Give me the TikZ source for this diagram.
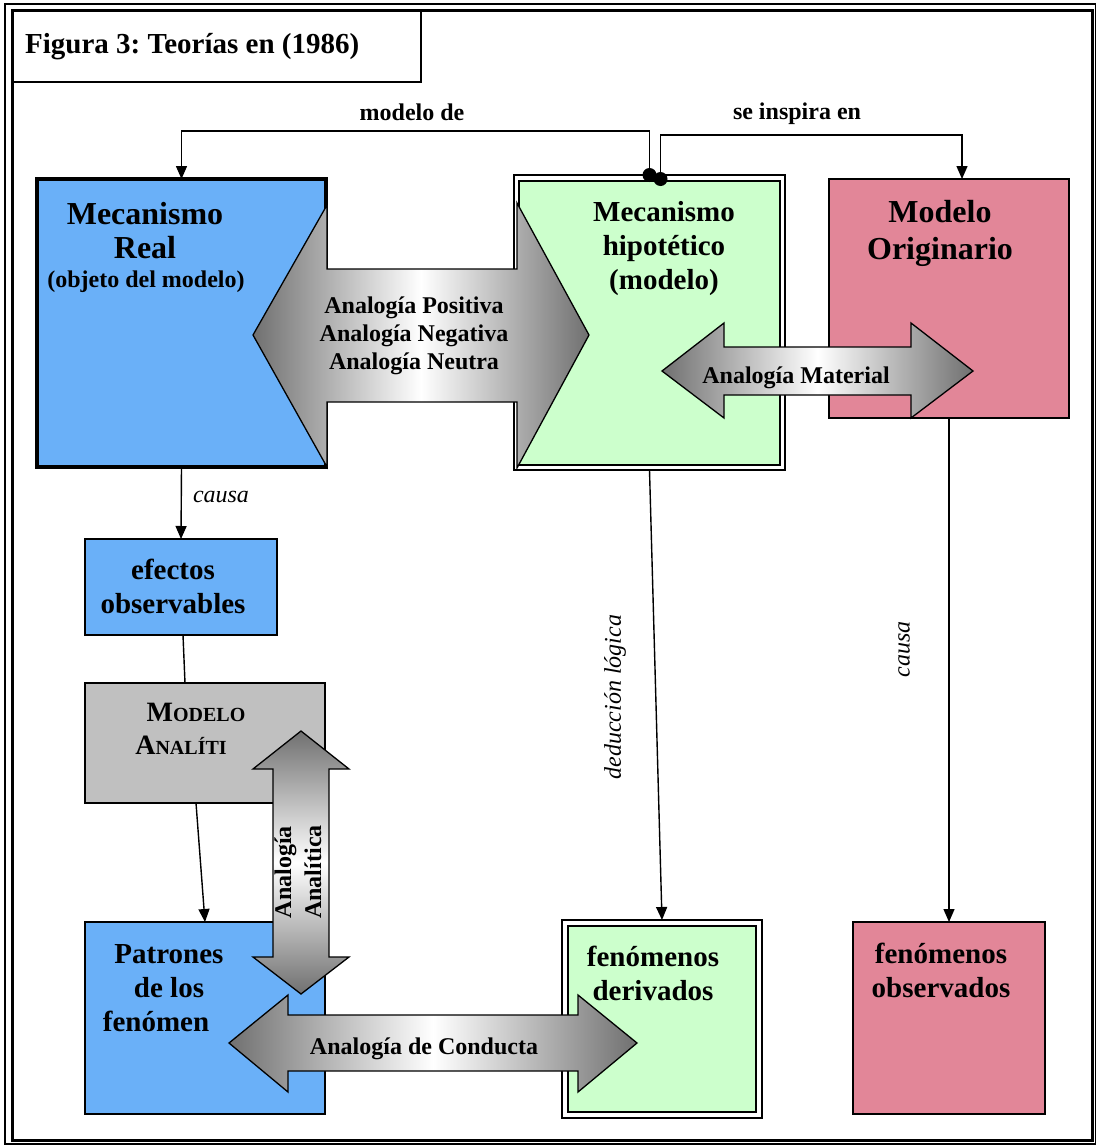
\documentclass[tikz,border=0pt]{standalone}
\usepackage{fontspec}
\setmainfont{Liberation Serif}
\usetikzlibrary{arrows.meta,calc}
\definecolor{boxblue}{RGB}{106,176,248}
\definecolor{boxgreen}{RGB}{204,255,204}
\definecolor{boxpink}{RGB}{226,134,152}
\definecolor{boxgray}{RGB}{192,192,192}
\definecolor{arrdark}{RGB}{112,112,112}
\newcommand{\fsz}[2]{\fontsize{#1}{#2}\selectfont}
\frenchspacing
\begin{document}
\begin{tikzpicture}[x=1pt,y=-1pt,
  box/.style={draw=black,line width=1.3pt,inner sep=0pt,outer sep=0pt,rectangle},
  conn/.style={draw=black,line width=1.4pt},
  arr/.style={conn,-{Triangle[length=13pt,width=11pt]}},
  bigtxt/.style={font=\bfseries\fsz{32}{34},align=center,inner sep=0pt},
  midtxt/.style={font=\bfseries\fsz{29}{34},align=center,inner sep=0pt},
  smtxt/.style={font=\bfseries\fsz{24}{28},align=center,inner sep=0pt},
  ittxt/.style={font=\itshape\fsz{24}{28},inner sep=0pt},
  blockh/.style={draw=black,line width=1.3pt,left color=arrdark,right color=arrdark,middle color=white},
  blockv/.style={draw=black,line width=1.3pt,top color=arrdark,bottom color=arrdark,middle color=white},
]
\useasboundingbox (0,0) rectangle (1097,1146);
% frame
\draw[line width=1.5pt] (5,4) rectangle (1095.5,1144);
\draw[line width=3pt] (12,10) rectangle (1092.5,1140);
% title
\node[box,line width=1.5pt,minimum width=409pt,minimum height=72pt] (titlebox) at (216.5,46) {};
\node[anchor=west,inner sep=0pt,font=\bfseries\fsz{29}{34}] (title) at (25,47) {Figura 3: Teorías en (1986)};
% boxes
\node[box,fill=boxblue,line width=4.5pt,minimum width=289pt,minimum height=288pt] (real) at (181.5,323) {};
\node[box,fill=white,line width=1.5pt,minimum width=271pt,minimum height=295pt] (hypout) at (649.5,322.5) {};
\node[box,fill=boxgreen,line width=2.5pt,minimum width=261pt,minimum height=284pt] (hyp) at (649.5,323) {};
\node[box,fill=boxpink,minimum width=240pt,minimum height=239pt] (orig) at (949,298.5) {};
\node[box,fill=boxblue,minimum width=192pt,minimum height=96pt] (efec) at (181,587) {};
\node[box,fill=boxgray,minimum width=240pt,minimum height=120pt] (ana) at (205,743) {};
\node[box,fill=boxblue,minimum width=240pt,minimum height=192pt] (pat) at (205,1018) {};
\node[box,fill=white,line width=1.5pt,minimum width=200pt,minimum height=198pt] (derout) at (662,1019) {};
\node[box,fill=boxgreen,line width=2.5pt,minimum width=188pt,minimum height=186pt] (der) at (662,1019) {};
\node[box,fill=boxpink,minimum width=192pt,minimum height=192pt] (obs) at (949,1018) {};
% connectors
\draw[arr] (hypout.north) -- ++(0,-44) -| (real.north);
\draw[arr] ($(hypout.north)+(11,4)$) -- ++(0,-44) -| ($(orig.north)+(13,0)$);
\fill (hypout.north) circle[radius=7pt];
\fill ($(hypout.north)+(11,4)$) circle[radius=7pt];
\draw[arr] (real.south) -- (efec.north);
\draw[conn] ($(efec.south)+(2,0)$) -- ($(ana.north)+(-20,0)$);
\draw[arr] ($(ana.south)+(-9,0)$) -- (pat.north);
\draw[arr] (hypout.south) -- (derout.north);
\draw[arr] (orig.south) -- (obs.north);
% connector labels
\node[smtxt] (lmodelo) at (412,112) {modelo de};
\node[smtxt] (linspira) at (797,114) {se inspira en};
\node[ittxt] (lcausa1) at (221,497) {causa};
\node[ittxt,rotate=90] (lded) at (615,697) {deducción lógica};
\node[ittxt,rotate=90] (lcausa2) at (904,649) {causa};
% block arrows
\path[blockh] (253,335) -- (327,205) -- (327,269) -- (517,269) -- (517,203) -- (589,335) -- (517,468) -- (517,402) -- (327,402) -- (327,467) -- cycle;
\path[blockh] (662,371) -- (724,323) -- (724,347) -- (911,347) -- (911,323) -- (973,371) -- (911,418) -- (911,395) -- (724,395) -- (724,418) -- cycle;
\path[blockv] (301,731) -- (349,769) -- (329,769) -- (329,957) -- (349,957) -- (301,994) -- (253,957) -- (273,957) -- (273,769) -- (253,769) -- cycle;
\path[blockh] (229,1043) -- (288,995) -- (288,1015) -- (578,1015) -- (578,995) -- (637,1043) -- (578,1092) -- (578,1071) -- (288,1071) -- (288,1092) -- cycle;
% box texts
\node[bigtxt] (trealA) at (145,230.5) {Mecanismo\\Real};
\node[smtxt] (trealB) at (146,282) {(objeto del modelo)};
\node[midtxt] (thyp) at (664,249) {Mecanismo\\hipotético\\(modelo)};
\node[bigtxt,font=\bfseries\fsz{32}{37}] (torig) at (940,233) {Modelo\\Originario};
\node[midtxt] (tefec) at (173,586) {efectos\\observables};
\node[inner sep=0pt,font=\bfseries] (tanaA) at (196,712) {\fsz{28}{30}M\fsz{20}{22}ODELO};
\node[inner sep=0pt,font=\bfseries] (tanaB) at (181,745) {\fsz{28}{30}A\fsz{20}{22}NALÍTI};
\node[midtxt] (tpatA) at (169,971) {Patrones\\de los};
\node[midtxt] (tpatB) at (156,1021) {fenómen};
\node[midtxt] (tder) at (653,973) {fenómenos\\derivados};
\node[midtxt] (tobs) at (941,970) {fenómenos\\observados};
% arrow texts
\node[smtxt] (tpos) at (414,336) {Analogía Positiva\\Analogía Negativa\\Analogía Neutra};
\node[smtxt] (tmat) at (796,378) {Analogía Material};
\node[smtxt] (tcond) at (424,1049) {Analogía de Conducta};
\node[smtxt,rotate=90,font=\bfseries\fsz{24}{30}] (tanal) at (298,872) {Analogía\\Analítica};
\end{tikzpicture}
\end{document}
